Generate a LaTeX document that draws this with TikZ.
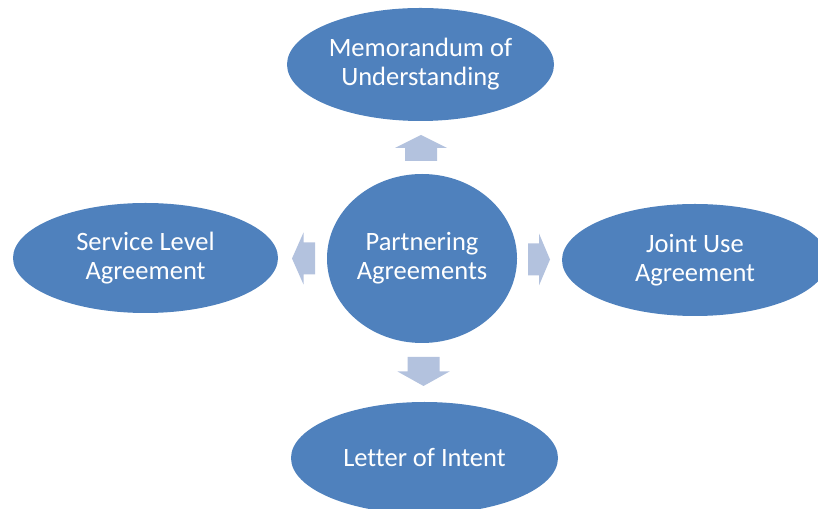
\documentclass[tikz,border=0pt]{standalone}
\usepackage{fontspec}
\setmainfont{Carlito}[Ligatures=NoCommon]
\usepackage{tikz}
\usetikzlibrary{shapes.geometric}

\definecolor{blobblue}{RGB}{79,129,189}
\definecolor{arrowblue}{RGB}{179,194,222}

\tikzset{
    blob/.style={ellipse, fill=blobblue, text=white, inner sep=0pt, align=center,
        font=\fontsize{26.5}{29}\selectfont},
    blockarrow/.style={fill=arrowblue}
}

\begin{document}
\begin{tikzpicture}[x=1pt, y=1pt]

% Page frame
\useasboundingbox (0,0) rectangle (818,508);

% Centre and outer ellipses
\node[blob, minimum width=190, minimum height=169] (partner) at (422,249.5) {Partnering\\Agreements};
\node[blob, minimum width=267, minimum height=113] (mou) at (420.5,443.5) {Memorandum of\\Understanding};
\node[blob, minimum width=265, minimum height=110] (sla) at (145.5,250) {Service Level\\Agreement};
\node[blob, minimum width=266, minimum height=112] (jua) at (695,248) {Joint Use\\Agreement};
\node[blob, minimum width=267, minimum height=112] (loi) at (424.5,50) {Letter of Intent};

% Block arrows pointing out from the centre
\foreach \cx/\cy/\ang/\len in {421/360/90/26, 423.5/136.5/270/29, 303.5/249.5/180/23, 539/248.5/0/22} {
    \fill[blockarrow, shift={(\cx,\cy)}, rotate=\ang]
        (-\len/2,-16) -- (0,-16) -- (0,-26) -- (\len/2,0) -- (0,26) -- (0,16) -- (-\len/2,16) -- cycle;
}
\end{tikzpicture}
\end{document}
